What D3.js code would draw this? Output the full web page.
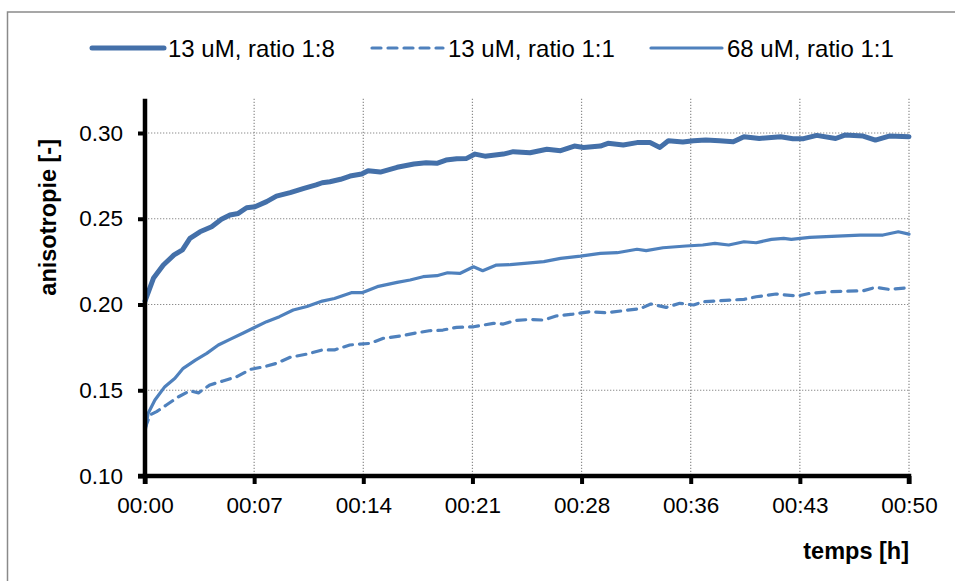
<!DOCTYPE html>
<html>
<head>
<meta charset="utf-8">
<script src="https://cdn.jsdelivr.net/npm/d3@7"></script>
<style>
  html, body { margin: 0; padding: 0; background: #fff; overflow: hidden; }
  svg { display: block; font-family: "Liberation Sans", Arial, sans-serif; }
</style>
</head>
<body>
<svg id="chart" width="955" height="581"></svg>
<script>
// ---- Data (minutes, anisotropy) ----
const seriesNames = ["13 uM, ratio 1:8", "13 uM, ratio 1:1", "68 uM, ratio 1:1"];

const timeA = [0, 0.55, 1.2, 1.9, 2.45, 2.94, 3.6, 4.36, 5.0, 5.56, 6.1, 6.65, 7.2, 7.96, 8.6, 9.5, 10.4, 11.2, 11.6, 12.1, 12.8, 13.42, 14.18, 14.6, 15.4, 16.5, 17.6, 18.4, 19.1, 19.7, 20.4, 21.05, 21.6, 22.25, 23.45, 24.1, 25.2, 26.3, 27.2, 28.1, 28.7, 29.8, 30.3, 31.3, 32.2, 33.05, 33.7, 34.25, 35.2, 35.9, 36.7, 37.6, 38.5, 39.2, 40.2, 41.6, 42.4, 43.1, 43.96, 45.2, 45.8, 47.0, 47.8, 48.7, 50];
const valuesA = [0.202, 0.2153, 0.223, 0.2289, 0.2318, 0.2386, 0.2424, 0.2453, 0.2497, 0.2522, 0.2531, 0.2564, 0.2570, 0.2600, 0.2632, 0.2652, 0.2677, 0.2697, 0.2710, 0.2716, 0.2730, 0.2749, 0.2761, 0.2780, 0.2772, 0.2800, 0.2819, 0.2827, 0.2823, 0.2842, 0.2850, 0.2852, 0.2877, 0.2865, 0.2877, 0.2891, 0.2885, 0.2905, 0.2897, 0.2924, 0.2916, 0.2924, 0.2940, 0.2930, 0.2944, 0.2944, 0.2916, 0.2955, 0.2947, 0.2955, 0.2959, 0.2955, 0.2949, 0.2978, 0.2968, 0.2978, 0.2967, 0.2967, 0.2986, 0.2968, 0.2988, 0.2982, 0.2959, 0.2982, 0.2978];

const timeB = [0, 0.33, 0.76, 1.4, 2.2, 2.94, 3.5, 4.25, 5.1, 6.0, 6.9, 7.8, 8.6, 9.5, 10.6, 11.6, 12.4, 13.4, 14.7, 15.6, 16.7, 17.6, 18.6, 19.5, 20.4, 21.5, 22.8, 23.45, 24.2, 25.2, 26.1, 26.9, 28.0, 29.1, 30.2, 31.3, 32.4, 33.1, 34.1, 35.0, 35.9, 36.5, 37.6, 39.2, 40.0, 41.3, 42.7, 43.5, 44.8, 45.9, 47.0, 47.8, 48.7, 50];
const valuesB = [0.1278, 0.1356, 0.1375, 0.1414, 0.1462, 0.1497, 0.1485, 0.1531, 0.1554, 0.1579, 0.1622, 0.1637, 0.1657, 0.1692, 0.1711, 0.1735, 0.1735, 0.1764, 0.1773, 0.1803, 0.1816, 0.1832, 0.1847, 0.1851, 0.1867, 0.1870, 0.1890, 0.1886, 0.1906, 0.1913, 0.1909, 0.1933, 0.1944, 0.1958, 0.1952, 0.1964, 0.1975, 0.2003, 0.1983, 0.2007, 0.1997, 0.2016, 0.2022, 0.2030, 0.2045, 0.2061, 0.2049, 0.2065, 0.2074, 0.2078, 0.2080, 0.2100, 0.2088, 0.2098];

const timeC = [0, 0.2, 0.65, 1.3, 1.96, 2.5, 3.3, 4.04, 4.8, 5.56, 6.4, 7.2, 7.96, 8.8, 9.7, 10.6, 11.6, 12.4, 13.5, 14.2, 15.2, 16.5, 17.35, 18.2, 19.1, 19.8, 20.6, 21.5, 22.1, 23.0, 23.9, 25.2, 26.1, 27.2, 28.5, 29.8, 30.9, 32.2, 32.8, 33.9, 35.4, 36.5, 37.3, 38.2, 39.2, 40.0, 41.0, 41.8, 42.3, 43.5, 45.3, 46.8, 48.3, 49.3, 50];
const valuesC = [0.1258, 0.1365, 0.1443, 0.1521, 0.1570, 0.1628, 0.1676, 0.1715, 0.1764, 0.1797, 0.1832, 0.1867, 0.1900, 0.1929, 0.1968, 0.1988, 0.2020, 0.2035, 0.2069, 0.2069, 0.2104, 0.2129, 0.2143, 0.2162, 0.2168, 0.2185, 0.2181, 0.2220, 0.2197, 0.2230, 0.2232, 0.2243, 0.2250, 0.2269, 0.2282, 0.2298, 0.2302, 0.2322, 0.2314, 0.2331, 0.2341, 0.2347, 0.2356, 0.2347, 0.2366, 0.2360, 0.2380, 0.2386, 0.2380, 0.2391, 0.2399, 0.2405, 0.2405, 0.2424, 0.2410];

const xTickLabels = ["00:00", "00:07", "00:14", "00:21", "00:28", "00:36", "00:43", "00:50"];
const yTicks = [0.10, 0.15, 0.20, 0.25, 0.30];
const xTitle = "temps [h]";
const yTitle = "anisotropie [-]";

// ---- Layout ----
const svg = d3.select("#chart");
const L = 145, R = 909, T = 98.7, B = 476;
const x = d3.scaleLinear().domain([0, 50]).range([L, R]);
const y = d3.scaleLinear().domain([0.10, 0.32]).range([B, T]);
const xTickValues = xTickLabels.map((d, i) => i * 50 / (xTickLabels.length - 1));

// frame
svg.append("rect").attr("x", 7.5).attr("y", 12).attr("width", 1000).attr("height", 700)
  .attr("fill", "none").attr("stroke", "#8a8a8a").attr("stroke-width", 1.5);

// gridlines
const grid = svg.append("g");
grid.selectAll("line.h").data(yTicks.filter(d => d > 0.1)).join("line")
  .attr("x1", L).attr("x2", R).attr("y1", d => y(d)).attr("y2", d => y(d))
  .attr("stroke", "#8c8c8c").attr("stroke-width", 1.2).attr("stroke-dasharray", "1.3,1.7");
grid.selectAll("line.v").data(xTickValues.slice(1)).join("line")
  .attr("x1", d => x(d)).attr("x2", d => x(d)).attr("y1", T).attr("y2", B)
  .attr("stroke", "#8c8c8c").attr("stroke-width", 1.2).attr("stroke-dasharray", "1.3,1.7");

// series
const line = d3.line().x(d => x(d[0])).y(d => y(d[1])).curve(d3.curveLinear);
const sA = timeA.map((t, i) => [t, valuesA[i]]);
const sB = timeB.map((t, i) => [t, valuesB[i]]);
const sC = timeC.map((t, i) => [t, valuesC[i]]);
const styles = [
  { data: sA, color: "#4470a9", width: 5, dash: null },
  { data: sB, color: "#4f81bd", width: 3.2, dash: "9,7" },
  { data: sC, color: "#4f81bd", width: 3.2, dash: null }
];
styles.forEach(s => {
  svg.append("path").datum(s.data).attr("d", line)
    .attr("fill", "none").attr("stroke", s.color).attr("stroke-width", s.width)
    .attr("stroke-linejoin", "round").attr("stroke-linecap", "round")
    .attr("stroke-dasharray", s.dash);
});

// axes
const yAxis = d3.axisLeft(y).tickValues(yTicks).tickSize(7).tickFormat(d3.format(".2f")).tickPadding(15);
const xAxis = d3.axisBottom(x).tickValues(xTickValues).tickSize(8).tickFormat((d, i) => xTickLabels[i]).tickPadding(13);

const gy = svg.append("g").attr("transform", `translate(${L},0)`).call(yAxis);
const gx = svg.append("g").attr("transform", `translate(0,${B})`).call(xAxis);
[gx, gy].forEach(g => {
  g.select(".domain").attr("stroke", "#000").attr("stroke-width", 4.5);
  g.selectAll(".tick line").attr("stroke", "#000").attr("stroke-width", 4);
  g.selectAll(".tick text").attr("fill", "#000").attr("font-size", 22.5)
    .attr("font-family", "'Liberation Sans', Arial, sans-serif");
});
gy.select(".domain").attr("d", `M-7,${B}H0V${T}`);
gx.select(".domain").attr("d", `M${L},8V0H${R}V8`);

// axis titles
svg.append("text").attr("x", R).attr("y", 559).attr("text-anchor", "end")
  .attr("font-size", 23.5).attr("font-weight", "bold").text(xTitle);
svg.append("text").attr("transform", `translate(56,${(T + B) / 2 - 70}) rotate(-90)`)
  .attr("text-anchor", "middle").attr("font-size", 23.5).attr("font-weight", "bold").text(yTitle);

// legend
const legendItems = [
  { x1: 92, x2: 164, tx: 168, st: styles[0] },
  { x1: 372, x2: 443, tx: 448, st: styles[1] },
  { x1: 651, x2: 722, tx: 727, st: styles[2] }
];
const ly = 48;
legendItems.forEach((it, i) => {
  svg.append("line").attr("x1", it.x1).attr("x2", it.x2).attr("y1", ly).attr("y2", ly)
    .attr("stroke", it.st.color).attr("stroke-width", it.st.width)
    .attr("stroke-linecap", "round").attr("stroke-dasharray", it.st.dash);
  svg.append("text").attr("x", it.tx).attr("y", ly + 8.5).attr("font-size", 24)
    .attr("fill", "#000").text(seriesNames[i]);
});
</script>
</body>
</html>
